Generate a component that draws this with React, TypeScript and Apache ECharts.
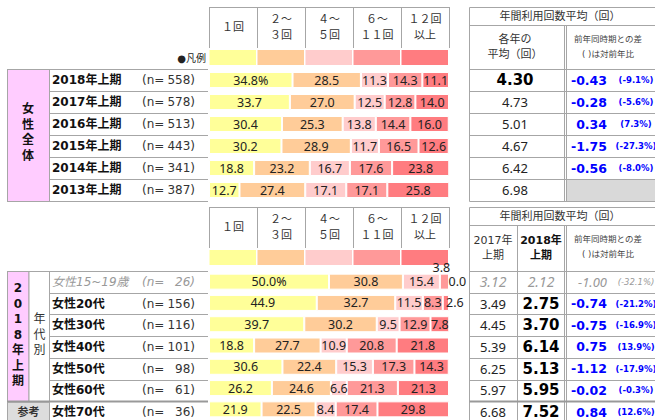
import React, { useEffect, useRef } from "react";
import * as echarts from "echarts";

// ---------- data ----------
const bandNames = ["１回", "２～３回", "４～５回", "６～１１回", "１２回以上"];
const bandHeader = [["１回"], ["２～", "３回"], ["４～", "５回"], ["６～", "１１回"], ["１２回", "以上"]];
const bandColors = ["#FFFF99", "#FFCC99", "#FFCCCC", "#FF9999", "#FF7C80"];

const yearLabels = ["2018年上期", "2017年上期", "2016年上期", "2015年上期", "2014年上期", "2013年上期"];
const yearN = [558, 578, 513, 443, 341, 387];
const yearOnce = [34.8, 33.7, 30.4, 30.2, 18.8, 12.7];
const yearTwoThree = [28.5, 27.0, 25.3, 28.9, 23.2, 27.4];
const yearFourFive = [11.3, 12.5, 13.8, 11.7, 16.7, 17.1];
const yearSixEleven = [14.3, 12.8, 14.4, 16.5, 17.6, 17.1];
const yearTwelvePlus = [11.1, 14.0, 16.0, 12.6, 23.8, 25.8];
const yearAvg = [4.30, 4.73, 5.01, 4.67, 6.42, 6.98];
const yearDiff = [-0.43, -0.28, 0.34, -1.75, -0.56, null];
const yearRatio = [-9.1, -5.6, 7.3, -27.3, -8.0, null];

const ageLabels = ["女性15~19歳", "女性20代", "女性30代", "女性40代", "女性50代", "女性60代", "女性70代"];
const ageN = [26, 156, 116, 101, 98, 61, 36];
const ageOnce = [50.0, 44.9, 39.7, 18.8, 30.6, 26.2, 21.9];
const ageTwoThree = [30.8, 32.7, 30.2, 27.7, 22.4, 24.6, 22.5];
const ageFourFive = [15.4, 11.5, 9.5, 10.9, 15.3, 6.6, 8.4];
const ageSixEleven = [3.8, 8.3, 12.9, 20.8, 17.3, 21.3, 17.4];
const ageTwelvePlus = [0.0, 2.6, 7.8, 21.8, 14.3, 21.3, 29.8];
const ageAvg2017 = [3.12, 3.49, 4.45, 5.39, 6.25, 5.97, 6.68];
const ageAvg2018 = [2.12, 2.75, 3.70, 6.14, 5.13, 5.95, 7.52];
const ageDiff = [-1.00, -0.74, -0.75, 0.75, -1.12, -0.02, 0.84];
const ageRatio = [-32.1, -21.2, -16.9, 13.9, -17.9, -0.3, 12.6];

// ---------- layout ----------
const FONT = '"DejaVu Sans", "Noto Sans CJK JP", sans-serif';
const NUMFONT = '"Noto Sans", "Noto Sans CJK JP", sans-serif';
const LINE = "#A6A6A6";
const BLUE = "#0000FF";
const GRAY = "#999999";
const BAR_L = 209;
const BAR_W = 240;
const TOP_Y0 = 69;
const TOP_RH = 22;
const BOT_Y0 = 271;
const BOT_RH = 21.7;

const yearShares = [yearOnce, yearTwoThree, yearFourFive, yearSixEleven, yearTwelvePlus];
const ageShares = [ageOnce, ageTwoThree, ageFourFive, ageSixEleven, ageTwelvePlus];

// label placement tweaks for narrow segments (band-row)
const ageLabelTweaks: Record<string, any> = {
  "3-0": { position: "top", distance: 0, offset: [-3, 0] },
  "4-0": { position: "right", distance: -1 },
  "4-1": { position: "right", distance: -3 },
};

const txt = (x: number, y: number, text: string, o: any = {}) => ({
  type: "text",
  x,
  y,
  silent: true,
  z: 10,
  style: {
    text,
    fill: o.fill || "#222",
    font: `${o.italic ? "italic " : ""}${o.bold ? "bold " : ""}${o.size || 12}px ${o.family || FONT}`,
    textAlign: o.align || "left",
    textVerticalAlign: "middle",
  },
});
const ln = (x1: number, y1: number, x2: number, y2: number, stroke = LINE, w = 1) => ({
  type: "line",
  silent: true,
  z: 5,
  shape: { x1, y1, x2, y2 },
  style: { stroke, lineWidth: w },
});
const rc = (x: number, y: number, w: number, h: number, fill: string, stroke: string | null = null) => ({
  type: "rect",
  silent: true,
  z: 1,
  shape: { x, y, width: w, height: h },
  style: { fill, stroke: stroke || "none", lineWidth: 1 },
});

function buildGraphics() {
  const g: any[] = [];
  const colW = BAR_W / 5;

  // bar column headers (both sections)
  [7, 207].forEach((hy, s) => {
    g.push(ln(BAR_L + 0.5, hy + 0.5, BAR_L + BAR_W + 0.5, hy + 0.5));
    for (let i = 0; i <= 5; i++) {
      const x = BAR_L + colW * i + 0.5;
      g.push(ln(x, hy, x, hy + 41));
    }
    bandHeader.forEach((lines, i) => {
      const cx = BAR_L + colW * (i + 0.5);
      if (lines.length === 1) g.push(txt(cx, hy + 20, lines[0], { size: 11, align: "center", fill: "#333" }));
      else {
        g.push(txt(cx, hy + 12, lines[0], { size: 11, align: "center", fill: "#333" }));
        g.push(txt(cx, hy + 28, lines[1], { size: 11, align: "center", fill: "#333" }));
      }
    });
    // legend swatches
    bandColors.forEach((c, i) => {
      g.push(rc(BAR_L + colW * i + 0.5, hy + 43, colW - 1.5, 15, c));
    });
    if (s === 0) g.push(txt(206, 58, "●凡例", { size: 10, align: "right", fill: "#222" }));
  });

  // ----- top section left table -----
  g.push(rc(7.5, TOP_Y0 + 0.5, 42, TOP_RH * 6, "#FFCCFF", LINE));
  ["女", "性", "全", "体"].forEach((ch, k) => g.push(txt(28, 109 + 15.5 * k, ch, { bold: true, size: 12, align: "center", fill: "#111" })));
  for (let i = 0; i <= 6; i++) {
    const y = Math.round(TOP_Y0 + TOP_RH * i) + 0.5;
    g.push(ln(i === 0 || i === 6 ? 7 : 49.5, y, 208, y));
  }
  yearLabels.forEach((lab, i) => {
    const cy = TOP_Y0 + TOP_RH * (i + 0.5);
    g.push(txt(52, cy, lab, { bold: true, size: 12, fill: "#111" }));
    g.push(txt(142, cy, "(n=", { size: 12, fill: "#333" }));
    g.push(txt(195, cy, `${yearN[i]})`, { size: 12, fill: "#333", align: "right" }));
  });

  // ----- top section right table -----
  g.push(rc(469.5, 7.5, 240, TOP_Y0 + TOP_RH * 6 - 7, "none", LINE));
  g.push(ln(469.5, 25.5, 700, 25.5));
  g.push(ln(564.5, 25.5, 564.5, TOP_Y0 + TOP_RH * 6));
  g.push(ln(566.5, 25.5, 566.5, TOP_Y0 + TOP_RH * 6));
  g.push(txt(560, 16, "年間利用回数平均（回）", { size: 11, align: "center", fill: "#333" }));
  g.push(txt(515, 39, "各年の", { size: 11, align: "center", fill: "#333" }));
  g.push(txt(515, 54, "平均（回）", { size: 11, align: "center", fill: "#333" }));
  g.push(txt(608, 39, "前年同時期との差", { size: 8.5, align: "center", fill: "#444" }));
  g.push(txt(608, 54, "( )は対前年比", { size: 8.5, align: "center", fill: "#444" }));
  g.push(rc(567, TOP_Y0 + TOP_RH * 5 + 1, 100, TOP_RH - 1, "#D9D9D9"));
  for (let i = 1; i < 6; i++) {
    const y = Math.round(TOP_Y0 + TOP_RH * i) + 0.5;
    g.push(ln(469.5, y, 700, y));
  }
  g.push(ln(469.5, TOP_Y0 + 0.5, 700, TOP_Y0 + 0.5));
  yearAvg.forEach((v, i) => {
    const cy = TOP_Y0 + TOP_RH * (i + 0.5);
    g.push(txt(515, cy, v.toFixed(2), i === 0 ? { bold: true, size: 15, align: "center", fill: "#000" } : { size: 13, align: "center", family: NUMFONT }));
    const d = yearDiff[i];
    const r = yearRatio[i];
    if (d !== null) g.push(txt(607, cy, d.toFixed(2), { bold: true, size: 12.5, align: "right", fill: BLUE }));
    if (r !== null) g.push(txt(636, cy, `(${r.toFixed(1)}%)`, { bold: true, size: 8.5, align: "center", fill: BLUE }));
  });

  // ----- bottom section left table -----
  const botEnd = BOT_Y0 + BOT_RH * 6;
  g.push(rc(7.5, BOT_Y0 + 0.5, 21.5, BOT_RH * 6, "#FFCCFF", LINE));
  g.push(rc(29, BOT_Y0 + 0.5, 20.5, BOT_RH * 6, "#FFFFFF", LINE));
  g.push(rc(7.5, botEnd + 1, 42, 30, "#DDDDDD", LINE));
  ["2", "0", "1", "8", "年", "上", "期"].forEach((ch, k) => g.push(txt(18, 288 + 15.5 * k, ch, { bold: true, size: 12, align: "center", fill: "#111" })));
  ["年", "代", "別"].forEach((ch, k) => g.push(txt(39.5, 319 + 15.5 * k, ch, { size: 12, align: "center", fill: "#333" })));
  g.push(txt(28.5, botEnd + 11, "参考", { bold: true, size: 11, align: "center", fill: "#333" }));
  for (let i = 0; i <= 7; i++) {
    const y = Math.round(BOT_Y0 + BOT_RH * i) + 0.5;
    if (i === 6) g.push(ln(7, y, 208, y, GRAY, 2));
    else g.push(ln(i === 0 ? 7 : 49.5, y, 208, y));
  }
  ageLabels.forEach((lab, i) => {
    const cy = BOT_Y0 + BOT_RH * (i + 0.5);
    const dim = i === 0;
    g.push(txt(52, cy, lab, dim ? { italic: true, size: 12, fill: GRAY } : { bold: true, size: 12, fill: "#111" }));
    g.push(txt(142, cy, "(n=", { size: 12, fill: dim ? GRAY : "#333", italic: dim }));
    g.push(txt(195, cy, `${ageN[i]})`, { size: 12, fill: dim ? GRAY : "#333", align: "right", italic: dim }));
  });

  // ----- bottom section right table -----
  g.push(rc(469.5, 207.5, 240, 230, "none", LINE));
  g.push(ln(469.5, 225.5, 700, 225.5));
  g.push(ln(517.5, 225.5, 517.5, 430));
  g.push(ln(564.5, 225.5, 564.5, 430));
  g.push(ln(566.5, 225.5, 566.5, 430));
  g.push(txt(560, 216, "年間利用回数平均（回）", { size: 11, align: "center", fill: "#333" }));
  g.push(txt(493, 240, "2017年", { size: 11, align: "center", fill: "#333" }));
  g.push(txt(493, 255, "上期", { size: 11, align: "center", fill: "#333" }));
  g.push(txt(541, 240, "2018年", { bold: true, size: 11, align: "center", fill: "#111" }));
  g.push(txt(541, 255, "上期", { bold: true, size: 11, align: "center", fill: "#111" }));
  g.push(txt(608, 239, "前年同時期との差", { size: 8.5, align: "center", fill: "#444" }));
  g.push(txt(608, 254, "( )は対前年比", { size: 8.5, align: "center", fill: "#444" }));
  for (let i = 0; i <= 7; i++) {
    const y = Math.round(BOT_Y0 + BOT_RH * i) + 0.5;
    if (i === 6) g.push(ln(469.5, y, 700, y, GRAY, 2));
    else g.push(ln(469.5, y, 700, y));
  }
  ageAvg2017.forEach((v, i) => {
    const cy = BOT_Y0 + BOT_RH * (i + 0.5);
    const dim = i === 0;
    g.push(txt(493, cy, v.toFixed(2), dim ? { italic: true, size: 14, align: "center", fill: GRAY, family: NUMFONT } : { size: 13, align: "center", family: NUMFONT }));
    g.push(txt(541, cy, ageAvg2018[i].toFixed(2), dim ? { italic: true, size: 14, align: "center", fill: GRAY, family: NUMFONT } : { bold: true, size: 15, align: "center", fill: "#000" }));
    g.push(txt(607, cy, ageDiff[i].toFixed(2), dim ? { italic: true, size: 13, align: "right", fill: GRAY, family: NUMFONT } : { bold: true, size: 12.5, align: "right", fill: BLUE }));
    g.push(txt(636, cy, `(${ageRatio[i].toFixed(1)}%)`, dim ? { italic: true, size: 8.5, align: "center", fill: GRAY } : { bold: true, size: 8.5, align: "center", fill: BLUE }));
  });

  return g;
}

function makeSeries(shares: number[][], stack: string, idx: number, tweaks: Record<string, any>) {
  return shares.map((vals, b) => ({
    type: "bar",
    name: bandNames[b],
    stack,
    xAxisIndex: idx,
    yAxisIndex: idx,
    barWidth: 16,
    itemStyle: { color: bandColors[b], borderColor: "#FFFFFF", borderWidth: 1 },
    label: {
      show: true,
      position: "inside",
      fontFamily: NUMFONT,
      fontSize: 12.5,
      color: "#222",
      formatter: (p: any) => (b === 0 && p.dataIndex === 0 ? `${Number(p.value).toFixed(1)}%` : Number(p.value).toFixed(1)),
    },
    data: vals.map((v, i) => {
      const t = tweaks[`${b}-${i}`];
      return t ? { value: v, label: t } : v;
    }),
  }));
}

export default function App() {
  const ref = useRef<HTMLDivElement>(null);
  useEffect(() => {
    if (!ref.current) return;
    const chart = echarts.init(ref.current, undefined, { renderer: "svg" });
    chart.setOption({
      animation: false,
      backgroundColor: "#FFFFFF",
      textStyle: { fontFamily: FONT },
      grid: [
        { left: BAR_L, top: TOP_Y0, width: BAR_W, height: TOP_RH * 6 },
        { left: BAR_L, top: BOT_Y0, width: BAR_W, height: BOT_RH * 7 },
      ],
      xAxis: [
        { type: "value", gridIndex: 0, min: 0, max: 100, show: false },
        { type: "value", gridIndex: 1, min: 0, max: 100, show: false },
      ],
      yAxis: [
        { type: "category", gridIndex: 0, data: yearLabels, inverse: true, show: false },
        { type: "category", gridIndex: 1, data: ageLabels, inverse: true, show: false },
      ],
      series: [
        ...makeSeries(yearShares, "years", 0, {}),
        ...makeSeries(ageShares, "ages", 1, ageLabelTweaks),
      ],
      graphic: buildGraphics(),
    });
    return () => chart.dispose();
  }, []);
  return <div ref={ref} style={{ position: "fixed", left: 0, top: 0, width: 655, height: 420 }} />;
}
